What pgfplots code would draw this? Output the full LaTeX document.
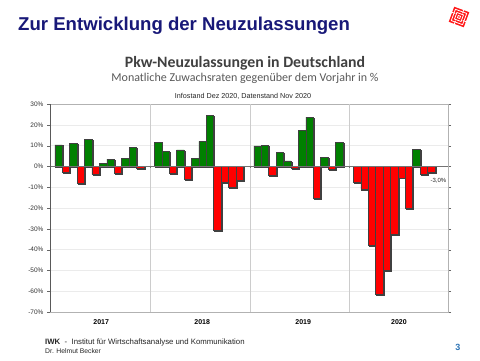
\documentclass[border=0pt]{standalone}
\usepackage{fontspec}
\setmainfont{Liberation Sans}
\newfontfamily\calibri{Carlito}
\usepackage{pgfplots}
\pgfplotsset{compat=1.18}
\usetikzlibrary{shadows}
\definecolor{titleblue}{RGB}{24,24,120}
\definecolor{bargreen}{RGB}{0,128,0}
\definecolor{barred}{RGB}{255,0,0}
\definecolor{pageblue}{RGB}{46,117,182}
\begin{document}
\begin{tikzpicture}[x=1pt,y=1pt]
\useasboundingbox[fill=white] (0,0) rectangle (480,360);
% slide title
\node[anchor=base west, inner sep=0, text=titleblue, font=\fontsize{18.6}{22}\selectfont\bfseries] at (18,330) {Zur Entwicklung der Neuzulassungen};
% logo
\begin{scope}[shift={(459,343)},rotate=-20]
\fill[red!90] (-8,-8) rectangle (8,8);
\draw[white,line width=0.8] (-6,-6) rectangle (6,6);
\draw[white,line width=0.8] (-3.5,-3.5) rectangle (3.5,3.5);
\draw[white,line width=0.8] (-1.2,-1.2) rectangle (1.2,1.2);
\draw[white,line width=0.8] (-8,2) -- (-4.7,2) (4.7,-2) -- (8,-2) (2,8) -- (2,4.7) (-2,-8) -- (-2,-4.7);
\end{scope}
% chart titles
\node[anchor=base, inner sep=0, text=black!75, font=\calibri\bfseries\fontsize{15.8}{18}\selectfont] at (245,293) {Pkw-Neuzulassungen in Deutschland};
\node[anchor=base, inner sep=0, text=black!65, font=\calibri\fontsize{12}{14}\selectfont] at (245,278.5) {Monatliche Zuwachsraten gegenüber dem Vorjahr in \%};
\node[anchor=base, inner sep=0, text=black!85, font=\fontsize{7.2}{8}\selectfont] at (243,261.5) {Infostand Dez 2020, Datenstand Nov 2020};
\begin{axis}[
  at={(50pt,48pt)}, anchor=south west,
  width=398pt, height=208pt, scale only axis,
  xmin=0, xmax=53.6, ymin=-70, ymax=30,
  ybar, bar width=1, bar shift=0pt,
  axis line style={black!30},
  ytick={-70,-60,...,30},
  yticklabel={\pgfmathprintnumber{\tick}\%},
  /pgf/number format/assume math mode=true,
  yticklabel style={font=\fontsize{6.5}{7}\selectfont, text=black!80},
  ytick style={black!60},
  tick align=outside,
  major tick length=3pt,
  ymajorgrids=true,
  major grid style={black!8},
  xtick={6.9,20.5,34.1,47.0},
  xticklabels={2017,2018,2019,2020},
  xticklabel style={font=\fontsize{7}{8}\selectfont\bfseries, yshift=-1pt},
  x tick style={draw=none},
  clip=false,
]
\draw[black!20] (axis cs:13.45,-70) -- (axis cs:13.45,30);
\draw[black!20] (axis cs:26.9,-70) -- (axis cs:26.9,30);
\draw[black!20] (axis cs:40.3,-70) -- (axis cs:40.3,30);
\addplot[fill=bargreen, draw=black!75, line width=0.5pt,
  drop shadow={shadow xshift=0.9pt, shadow yshift=-0.9pt, fill=black!40, opacity=1}]
coordinates {
(1.15,10.4) (3.15,11.2) (5.15,13.0) (7.15,1.3) (8.15,3.5) (10.15,4.0) (11.15,9.3)
(14.55,11.4) (15.55,7.2) (17.55,7.9) (19.55,4.0) (20.55,12.0) (21.55,24.5)
(27.95,9.9) (28.95,10.1) (30.95,6.9) (31.95,2.6) (33.95,17.5) (34.95,23.7) (36.95,4.3) (38.95,11.4)
(49.35,8.3)
};
\addplot[fill=barred, draw=black!75, line width=0.5pt,
  drop shadow={shadow xshift=0.9pt, shadow yshift=-0.9pt, fill=black!40, opacity=1}]
coordinates {
(2.15,-2.9) (4.15,-8.3) (6.15,-3.8) (9.15,-3.5) (12.15,-1.0)
(16.55,-3.5) (18.55,-6.1) (22.55,-30.9) (23.55,-7.7) (24.55,-10.1) (25.55,-6.7)
(29.95,-4.3) (32.95,-0.8) (35.95,-15.4) (37.95,-1.3)
(41.35,-7.7) (42.35,-11.0) (43.35,-38.1) (44.35,-61.7) (45.35,-49.8) (46.35,-32.5) (47.35,-5.5) (48.35,-20.3) (50.35,-3.7) (51.35,-3.0)
};
\draw[black!55] (axis cs:0,0) -- (axis cs:53.6,0);
\draw[black!55] (axis cs:13.45,0) -- (axis cs:13.45,-1);
\draw[black!55] (axis cs:26.9,0) -- (axis cs:26.9,-1);
\draw[black!55] (axis cs:40.3,0) -- (axis cs:40.3,-1);
\draw[black!65] (rel axis cs:0,0) -- (rel axis cs:0,1);
\node[font=\fontsize{6}{7}\selectfont, text=black!85] at (axis cs:52.3,-6.8) {-3,0\%};
\end{axis}
% footer
\node[anchor=base west, inner sep=0, font=\fontsize{7.8}{9}\selectfont, text=black!85] at (45,16) {\textbf{IWK} ~-~ Institut für Wirtschaftsanalyse und Kommunikation};
\node[anchor=base west, inner sep=0, font=\fontsize{6.8}{8}\selectfont, text=black!85] at (45,7) {Dr. Helmut Becker};
\node[inner sep=0, font=\fontsize{9}{10}\selectfont\bfseries, text=pageblue] at (458,13) {3};
\end{tikzpicture}
\end{document}
